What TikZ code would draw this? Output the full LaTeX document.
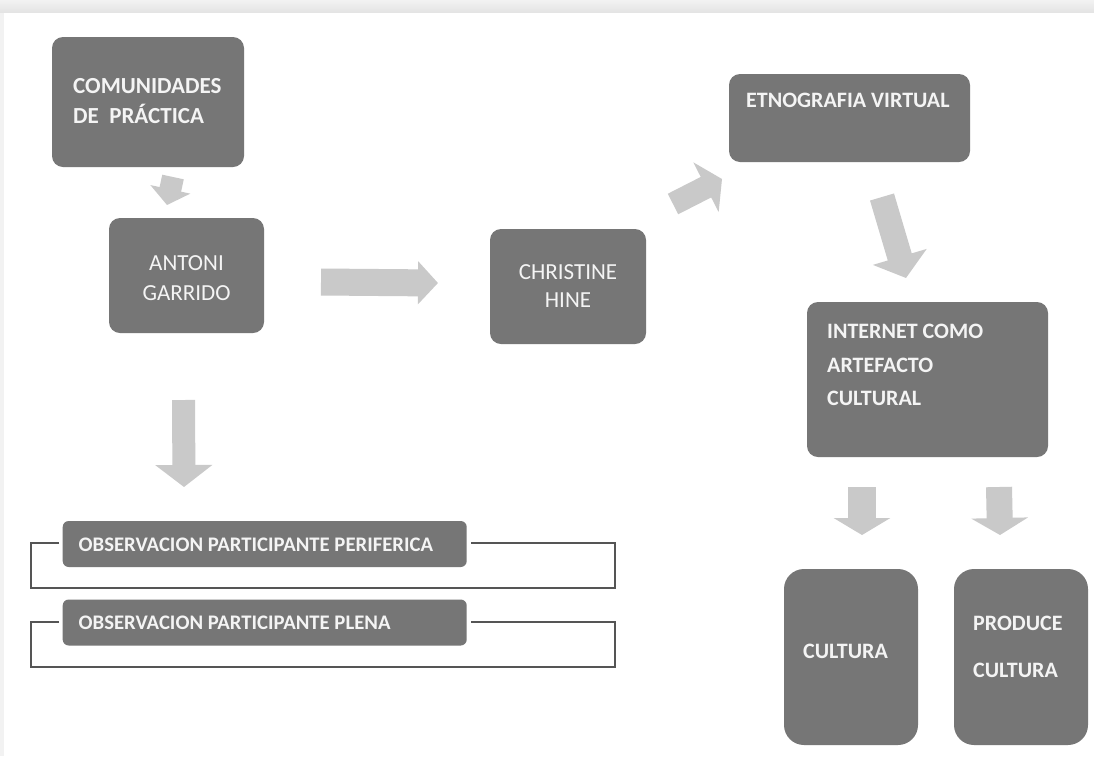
\documentclass[tikz,border=0pt]{standalone}
\usepackage{fontspec}
\setmainfont{Carlito}
\usetikzlibrary{arrows.meta}
\definecolor{boxgray}{HTML}{767676}
\definecolor{arrgray}{HTML}{C9C9C9}
\definecolor{framegray}{HTML}{555555}
\definecolor{txt}{HTML}{F4F4F4}
\begin{document}
\begin{tikzpicture}[x=1pt,y=-1pt,
  box/.style={fill=boxgray, draw=none, rounded corners=11pt, inner sep=0pt},
  tb/.style={text=txt, font=\fontsize{22}{26}\selectfont\bfseries, anchor=base west, inner sep=0pt},
  tbb/.style={text=txt, font=\fontsize{23}{27}\selectfont\bfseries, anchor=base west, inner sep=0pt},
  tr/.style={text=txt, font=\fontsize{23}{27}\selectfont, anchor=base, inner sep=0pt},
  to/.style={text=txt, font=\fontsize{20.7}{24}\selectfont\bfseries, anchor=base west, inner sep=0pt},
  blockarr/.style={draw=arrgray, line width=#1},
  framel/.style={draw=framegray, line width=2.5pt},
]
% page and background
\useasboundingbox (0,0) rectangle (1094,756);
\fill[white] (0,0) rectangle (1094,756);
\shade[top color=white!95!black, bottom color=white!89!black] (0,0) rectangle (1094,12.7);
\fill[white!95!black] (0,12.7) rectangle (4,756);

% boxes
\node[box, minimum width=192pt, minimum height=130pt] (b1) at (148,102) {};
\node[box, minimum width=155pt, minimum height=115pt] (b2) at (186.5,275.5) {};
\node[box, minimum width=156pt, minimum height=115pt] (b3) at (568,286.5) {};
\node[box, minimum width=241pt, minimum height=88pt] (b4) at (849.5,118) {};
\node[box, minimum width=241pt, minimum height=155pt] (b5) at (927.5,379.5) {};
\node[box, rounded corners=20pt, minimum width=134pt, minimum height=176pt] (b6) at (851,657) {};
\node[box, rounded corners=20pt, minimum width=134pt, minimum height=176pt] (b7) at (1021,657) {};

% frames of the observation items
\draw[framel] (59,543) -| (31,588) -| (615,543) -- (471,543);
\draw[framel] (59,622) -| (31,667) -| (615,622) -- (471,622);
\node[box, rounded corners=6pt, minimum width=404pt, minimum height=46pt] (o1) at (264.7,544) {};
\node[box, rounded corners=6pt, minimum width=404pt, minimum height=46pt] (o2) at (264.7,622.5) {};

% texts
\node[tbb] (t1a) at (73,93) {COMUNIDADES};
\node[tbb] (t1b) at (73,123) {DE\ \ PRÁCTICA};
\node[tr] (t2a) at (186.5,270) {ANTONI};
\node[tr] (t2b) at (186.5,300) {GARRIDO};
\node[tr] (t3a) at (568,279) {CHRISTINE};
\node[tr] (t3b) at (568,307) {HINE};
\node[tb] (t4) at (746,107) {ETNOGRAFIA VIRTUAL};
\node[tb] (t5a) at (827,338) {INTERNET COMO};
\node[tb] (t5b) at (827,372) {ARTEFACTO};
\node[tb] (t5c) at (827,405) {CULTURAL};
\node[tb] (t6) at (803,658) {CULTURA};
\node[tb] (t7a) at (973,630) {PRODUCE};
\node[tb] (t7b) at (973,677) {CULTURA};
\node[to] (to1) at (78.5,551) {OBSERVACION PARTICIPANTE PERIFERICA};
\node[to] (to2) at (78.5,629) {OBSERVACION PARTICIPANTE PLENA};

% block arrows
\coordinate (a1s) at (173,177);
\coordinate (a1e) at (167,205);
\coordinate (a2s) at (321,282);
\coordinate (a2e) at (438,283);
\coordinate (a3s) at (673,204);
\coordinate (a3e) at (722,179);
\coordinate (a4s) at (882,197);
\coordinate (a4e) at (906,278);
\coordinate (a5s) at (183.5,400);
\coordinate (a5e) at (184,487);
\coordinate (a6s) at (862,487);
\coordinate (a6e) at (862,535);
\coordinate (a7s) at (999,487);
\coordinate (a7e) at (1000,535);
\draw[blockarr=22pt, -{Triangle[length=16pt,width=40pt]}] (a1s) -- (a1e);
\draw[blockarr=27pt, -{Triangle[length=20pt,width=42pt]}] (a2s) -- (a2e);
\draw[blockarr=23pt, -{Triangle[length=18pt,width=55pt]}] (a3s) -- (a3e);
\draw[blockarr=25pt, -{Triangle[length=22pt,width=55pt]}] (a4s) -- (a4e);
\draw[blockarr=23pt, -{Triangle[length=22pt,width=56pt]}] (a5s) -- (a5e);
\draw[blockarr=28pt, -{Triangle[length=17pt,width=56pt]}] (a6s) -- (a6e);
\draw[blockarr=26pt, -{Triangle[length=17pt,width=56pt]}] (a7s) -- (a7e);
\end{tikzpicture}
\end{document}
